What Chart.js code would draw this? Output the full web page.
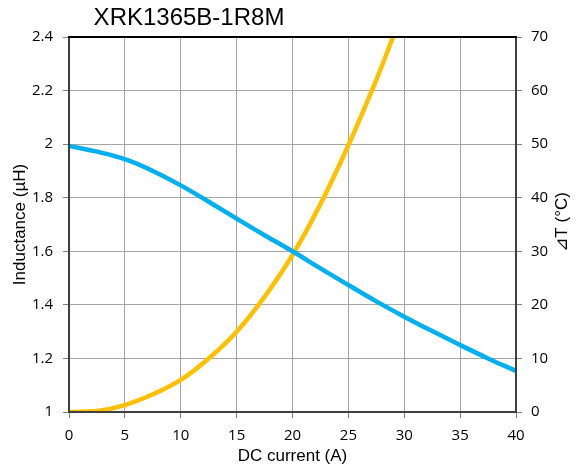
<!DOCTYPE html>
<html>
<head>
<meta charset="utf-8">
<script src="https://cdn.jsdelivr.net/npm/chart.js@4/dist/chart.umd.min.js"></script>
<style>
    html, body { margin: 0; padding: 0; background: #fff; }
    canvas { display: block; }
</style>
</head>
<body>
<canvas id="chart" width="580" height="475"></canvas>
<script>
const chartTitle = 'XRK1365B-1R8M';
const xTitle = 'DC current (A)';
const leftTitle = 'Inductance (µH)';
const rightTitle = '⊿T (°C)';

// inductance curve (A -> µH)
const currentA = [0, 2.5, 5, 7.5, 10, 12.5, 15, 17.5, 20, 22.5, 25, 27.5, 30, 32.5, 35, 37.5, 40];
const inductance = [1.993, 1.972, 1.944, 1.900, 1.846, 1.785, 1.722, 1.660, 1.600, 1.536, 1.474, 1.413, 1.356, 1.302, 1.250, 1.200, 1.153];

// temperature rise curve (A -> °C)
const tempCurrent = [0, 2.5, 5, 7.5, 10, 12.5, 15, 17.5, 20, 22.5, 25, 27.5, 29];
const tempRise = [0, 0.2, 1.3, 3.3, 6.0, 10.0, 15.0, 21.5, 29.3, 38.8, 49.8, 62, 70];

const tickFont = { family: 'Open Sans', size: 15 };
const titleFont = { family: 'Liberation Sans', size: 17 };
const gridColor = '#a6a6a6';

const framePlugin = {
    id: 'frame',
    afterDraw(chart) {
        const { ctx, chartArea: a } = chart;
        ctx.save();
        ctx.lineWidth = 2;
        ctx.strokeStyle = '#404040';
        ctx.strokeRect(a.left, a.top, a.right - a.left, a.bottom - a.top);
        ctx.strokeStyle = '#000';
        ctx.beginPath();
        ctx.moveTo(a.left - 1, a.top);
        ctx.lineTo(a.right + 1, a.top);
        ctx.stroke();

        // chart title, sits left of centre like the original
        ctx.fillStyle = '#000';
        ctx.font = '24px "Liberation Sans"';
        ctx.textAlign = 'center';
        ctx.textBaseline = 'alphabetic';
        ctx.fillText(chartTitle, 189, 25);

        // right axis title reads bottom-to-top
        ctx.translate(562, 222);
        ctx.rotate(-Math.PI / 2);
        ctx.font = '17px "Liberation Sans", "DejaVu Sans"';
        ctx.textBaseline = 'middle';
        ctx.fillText(rightTitle, 0, 0);
        ctx.restore();
    },
};

const toPoints = (xs, ys) => xs.map((x, i) => ({ x, y: ys[i] }));

new Chart(document.getElementById('chart'), {
    type: 'line',
    data: {
        datasets: [
            {
                label: 'Inductance',
                data: toPoints(currentA, inductance),
                yAxisID: 'y',
                borderColor: '#00b0f0',
                borderWidth: 4.5,
                pointRadius: 0,
                tension: 0.4,
            },
            {
                label: 'Temperature rise',
                data: toPoints(tempCurrent, tempRise),
                yAxisID: 'y1',
                borderColor: '#ffc000',
                borderWidth: 4.5,
                pointRadius: 0,
                tension: 0.4,
            },
        ],
    },
    options: {
        responsive: false,
        animation: false,
        layout: { padding: { top: 37, left: 0, right: 0, bottom: 0 } },
        plugins: {
            legend: { display: false },
            tooltip: { enabled: false },
        },
        scales: {
            x: {
                type: 'linear',
                min: 0,
                max: 40,
                ticks: { stepSize: 5, font: tickFont, color: '#000', padding: 9, maxRotation: 0 },
                grid: { color: gridColor, tickLength: 6, tickColor: '#808080' },
                border: { display: false },
                title: { display: true, text: xTitle, font: titleFont, color: '#000', padding: { top: 0, bottom: 8 } },
                afterFit(scale) { scale.height = 63; },
            },
            y: {
                position: 'left',
                min: 1,
                max: 2.4,
                ticks: {
                    stepSize: 0.2,
                    font: tickFont,
                    color: '#000',
                    padding: 10,
                    callback: (v) => String(Math.round(v * 10) / 10),
                },
                grid: { color: gridColor, tickLength: 6, tickColor: '#808080' },
                border: { display: false },
                title: { display: true, text: leftTitle, font: titleFont, color: '#000', padding: { top: 10, bottom: 0 } },
                afterFit(scale) { scale.width = 69; },
            },
            y1: {
                position: 'right',
                min: 0,
                max: 70,
                ticks: { stepSize: 10, font: tickFont, color: '#000', padding: 9 },
                grid: { drawOnChartArea: false, tickLength: 6, tickColor: '#808080' },
                border: { display: false },
                afterFit(scale) { scale.width = 64; },
            },
        },
    },
    plugins: [framePlugin],
});
</script>
</body>
</html>
